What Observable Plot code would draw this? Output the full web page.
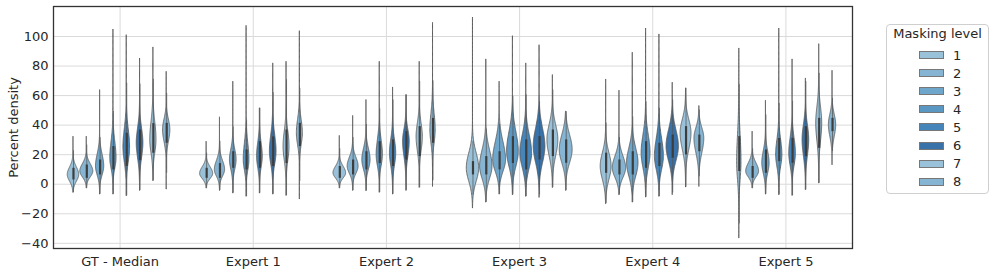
<!DOCTYPE html>
<html><head><meta charset="utf-8">
<script src="https://cdn.jsdelivr.net/npm/d3@7"></script>
<script src="https://cdn.jsdelivr.net/npm/@observablehq/plot@0.6"></script>
<style>
body{margin:0;background:#fff;font-family:"DejaVu Sans",sans-serif;color:#262626;}
#wrap{position:relative;width:997px;height:276px;}
#legend{position:absolute;left:886px;top:24px;width:103px;height:170px;border:1px solid #cfcfcf;border-radius:4px;background:#fff;box-sizing:border-box;}
#legend .title{position:absolute;left:0;width:100%;top:1px;text-align:center;font-size:13px;}
#legend .item{position:absolute;left:32px;height:18px;display:flex;align-items:center;font-size:13px;}
#legend .sw{width:25px;height:8px;margin-right:9px;border:0.8px solid #777;box-sizing:border-box;}
</style></head><body>
<div id="wrap"><div id="chart"></div><div id="legend"></div></div>
<script>
// Categories
const groups = ["GT - Median", "Expert 1", "Expert 2", "Expert 3", "Expert 4", "Expert 5"];
const levels = [1, 2, 3, 4, 5, 6, 7, 8];
const levelColors = ["#99c2da", "#86b5d3", "#6fa6cb", "#5a97c2", "#4585b9", "#3872a8", "#99c2da", "#86b5d3"];

// Per violin values, rows = groups, columns = masking levels 1..8
const vMin = [
  [-5.6, -2.7, -6.8, -6.8, -7.9, -4.3, 2.3, -3.4],
  [-2.7, -4.3, -6.1, -8.3, -6.1, -6.8, -7.7, -10.1],
  [-2.7, -4.3, -4.5, -5.6, -6.8, -4.3, -2.3, -1.6],
  [-16.2, -12.2, -6.8, -7.2, -8.3, -9.0, -2.3, -4.3],
  [-13.3, -7.2, -12.2, -8.8, -8.3, -7.2, -2.0, -1.6],
  [-36.5, -2.7, -6.8, -7.2, -7.7, -3.8, 0.7, 13.1]
];
const vMax = [
  [32.2, 32.2, 63.7, 104.7, 100.9, 85.1, 92.6, 76.1],
  [28.8, 45.3, 69.4, 107.2, 51.4, 81.8, 82.9, 103.6],
  [32.7, 46.2, 57.0, 82.9, 65.5, 60.4, 82.9, 109.2],
  [112.8, 84.5, 69.4, 100.2, 81.8, 94.1, 73.9, 49.1],
  [70.9, 63.3, 89.0, 105.4, 101.4, 68.7, 64.9, 52.9],
  [91.9, 35.6, 56.5, 105.4, 84.5, 71.6, 94.8, 76.8]
];
// location of the widest point of each violin
const vMode = [
  [6.3, 8.6, 12.0, 17.6, 25.0, 27.7, 30.0, 36.7],
  [7.0, 9.7, 16.4, 16.4, 18.7, 22.0, 25.5, 34.5],
  [7.4, 12.0, 16.4, 19.8, 21.0, 28.8, 32.0, 36.7],
  [10.8, 12.0, 16.4, 22.0, 21.0, 25.5, 30.0, 23.2],
  [12.0, 10.8, 14.2, 21.0, 18.7, 25.5, 34.5, 31.0],
  [15.0, 8.6, 14.2, 19.8, 21.0, 30.0, 41.2, 40.1]
];
// spread of the bulk below / above the widest point
const spreadLow = [
  [4.5, 4.0, 6.0, 7.0, 10.0, 10.0, 9.0, 8.0],
  [3.5, 4.5, 6.5, 7.0, 7.5, 8.5, 9.5, 8.0],
  [3.5, 5.0, 6.5, 7.5, 8.5, 10.0, 9.5, 9.0],
  [9.0, 8.5, 8.0, 10.0, 10.0, 11.0, 11.0, 9.0],
  [9.0, 6.5, 9.0, 10.0, 9.0, 10.0, 11.0, 10.0],
  [12.0, 4.0, 7.0, 8.0, 8.5, 11.0, 12.0, 8.0]
];
const spreadHigh = [
  [5.0, 5.0, 8.0, 11.0, 12.0, 10.0, 12.0, 7.0],
  [4.5, 6.0, 7.0, 11.0, 9.0, 11.0, 10.0, 9.0],
  [4.5, 6.0, 7.5, 10.0, 9.0, 8.0, 9.0, 11.0],
  [10.0, 11.0, 12.0, 13.0, 12.0, 12.0, 10.0, 10.0],
  [9.0, 8.0, 10.0, 12.0, 12.0, 11.0, 9.0, 7.0],
  [18.0, 5.5, 8.0, 10.0, 10.0, 10.0, 11.0, 7.0]
];
// relative peak density (1 = full slot width)
const peakDensity = [
  [0.86, 0.98, 0.62, 0.47, 0.50, 0.50, 0.47, 0.55],
  [0.98, 0.77, 0.50, 0.43, 0.43, 0.50, 0.45, 0.45],
  [0.95, 0.82, 0.62, 0.47, 0.47, 0.50, 0.47, 0.40],
  [0.93, 0.93, 0.97, 0.88, 0.88, 0.88, 0.82, 0.97],
  [0.82, 1.00, 0.86, 0.67, 0.67, 0.93, 0.82, 0.74],
  [0.33, 0.97, 0.55, 0.47, 0.50, 0.50, 0.45, 0.55]
];
const q1 = [
  [2.9, 4.0, 6.3, 9.7, 12.0, 16.0, 21.0, 27.7],
  [4.0, 4.0, 10.8, 9.7, 10.8, 12.0, 14.0, 25.5],
  [4.0, 6.3, 9.7, 14.0, 12.0, 16.4, 18.7, 27.7],
  [6.3, 6.3, 9.7, 14.0, 9.7, 16.4, 18.7, 14.2],
  [7.4, 6.3, 6.3, 10.8, 12.0, 17.6, 19.8, 22.0],
  [8.6, 4.0, 7.4, 15.3, 14.2, 18.7, 24.3, 35.6]
];
const median = [
  [6.5, 8.5, 11.0, 16.0, 23.0, 25.0, 30.0, 35.0],
  [7.0, 9.0, 16.0, 15.0, 18.0, 20.0, 25.0, 33.0],
  [7.0, 11.0, 16.0, 20.0, 21.0, 27.0, 30.0, 37.0],
  [10.0, 11.0, 16.0, 21.0, 21.0, 24.0, 28.0, 22.0],
  [12.0, 11.0, 12.0, 20.0, 18.0, 24.0, 30.0, 28.0],
  [12.0, 8.0, 12.0, 20.0, 21.0, 30.0, 35.0, 39.0]
];
const q3 = [
  [10.8, 13.0, 16.4, 25.5, 34.5, 36.7, 41.0, 41.2],
  [10.8, 14.0, 22.0, 23.2, 28.8, 32.0, 36.7, 41.2],
  [12.0, 16.4, 22.0, 28.8, 30.0, 35.6, 39.0, 44.6],
  [15.3, 18.7, 22.0, 32.2, 30.0, 32.2, 36.7, 30.0],
  [21.0, 16.4, 22.0, 28.8, 27.7, 33.3, 39.0, 33.3],
  [32.2, 12.0, 23.2, 31.0, 31.0, 39.0, 44.6, 44.6]
];
const yTicks = [-40, -20, 0, 20, 40, 60, 80, 100];

// ---- build tables for the marks ----
const slot = 0.8 / levels.length;          // seaborn dodge width per hue
const outline = [], boxes = [];
groups.forEach((g, gi) => {
  levels.forEach((lv, li) => {
    const cx = gi + 0.5 + (li - (levels.length - 1) / 2) * slot;
    const lo = vMin[gi][li], hi = vMax[gi][li], m = vMode[gi][li];
    const sl = spreadLow[gi][li], sh = spreadHigh[gi][li], pk = peakDensity[gi][li];
    const n = 140;
    for (let k = 0; k <= n; k++) {
      const y = lo + (hi - lo) * k / n;
      const s = y < m ? sl : sh;
      const hw = pk * slot / 2 * Math.exp(-0.5 * ((y - m) / s) ** 2);
      outline.push({id: gi * 10 + li, level: lv, y, x1: cx - hw, x2: cx + hw});
    }
    const a = q1[gi][li], b = q3[gi][li], iqr = b - a;
    boxes.push({x: cx, level: lv, q1: a, q3: b, med: median[gi][li],
      wlo: Math.max(lo, a - 1.5 * iqr), whi: Math.min(hi, b + 1.5 * iqr)});
  });
});

const chart = Plot.plot({
  width: 997, height: 276,
  marginLeft: 53, marginRight: 145, marginTop: 6, marginBottom: 28,
  style: {fontFamily: "DejaVu Sans, sans-serif", fontSize: "13px", color: "#262626", background: "#fff"},
  x: {domain: [0, groups.length]},
  y: {domain: [-43.5, 120.3]},
  color: {domain: levels, range: levelColors},
  marks: [
    Plot.gridY(yTicks, {stroke: "#dadada", strokeOpacity: 1, strokeWidth: 1}),
    Plot.gridX(groups.map((g, i) => i + 0.5), {stroke: "#dadada", strokeOpacity: 1, strokeWidth: 1}),
    Plot.areaX(outline, {x1: "x1", x2: "x2", y: "y", z: "id", fill: "level", stroke: "#555555", strokeWidth: 0.8, curve: "linear"}),
    Plot.ruleX(boxes, {x: "x", y1: "wlo", y2: "whi", stroke: "#555555", strokeWidth: 0.75}),
    Plot.ruleX(boxes, {x: "x", y1: "q1", y2: "q3", stroke: "#3d3d3d", strokeWidth: 2.2}),
    Plot.axisY(yTicks, {tickSize: 0, tickPadding: 5, fontSize: 13, label: "Percent density", labelAnchor: "center", labelArrow: "none", labelOffset: 45}),
    Plot.axisX(groups.map((g, i) => i + 0.5), {tickSize: 0, tickPadding: 8, fontSize: 13, tickFormat: d => groups[Math.round(d - 0.5)], label: null}),
    Plot.frame({stroke: "#333", strokeWidth: 1.3})
  ]
});
document.getElementById("chart").appendChild(chart);

// legend
const leg = document.getElementById("legend");
const t = document.createElement("div"); t.className = "title"; t.textContent = "Masking level"; leg.appendChild(t);
levels.forEach((lv, i) => {
  const it = document.createElement("div"); it.className = "item";
  it.style.top = (21 + i * 18.1) + "px";
  const sw = document.createElement("div"); sw.className = "sw"; sw.style.background = levelColors[i];
  const lb = document.createElement("span"); lb.textContent = lv;
  it.appendChild(sw); it.appendChild(lb); leg.appendChild(it);
});
</script></body></html>
